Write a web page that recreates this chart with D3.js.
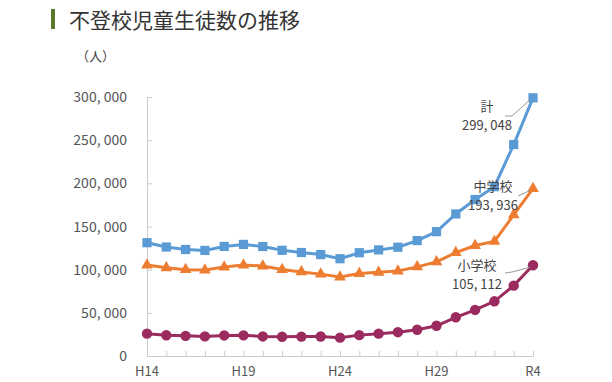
<!DOCTYPE html>
<html><head><meta charset="utf-8">
<script src="https://cdn.jsdelivr.net/npm/d3@7"></script>
<style>
body{margin:0;background:#fff;}
text{font-family:"Noto Sans CJK JP","Noto Sans",sans-serif;}
</style></head>
<body><svg id="c" width="612" height="382"></svg>
<script>
const years = ["H14","H15","H16","H17","H18","H19","H20","H21","H22","H23","H24","H25","H26","H27","H28","H29","H30","R1","R2","R3","R4"];
const xTickLabels = ["H14","H19","H24","H29","R4"];
const elementary = [25869,24077,23318,22709,23825,23927,22652,22327,22463,22622,21243,24175,25864,27583,30448,35032,44841,53350,63350,81498,105112];
const junior = [105383,102149,100040,99578,103069,105328,104153,100105,97428,94836,91446,95442,97033,98408,103235,108999,119687,127922,132777,163442,193936];
const total = [131252,126226,123358,122287,126894,129255,126805,122432,119891,117458,112689,119617,122897,125991,133683,144031,164528,181272,196127,244940,299048];
const yTicks = [0,50000,100000,150000,200000,250000,300000];
const seriesNames = ["計","中学校","小学校"];

const svg = d3.select("#c");
const x = d3.scalePoint().domain(years).range([147,533]);
const y = d3.scaleLinear().domain([0,300000]).range([356,97]);

// title
svg.append("rect").attr("x",51).attr("y",9).attr("width",4).attr("height",20).attr("fill","#5a7a2a");
svg.append("text").attr("x",69).attr("y",28).attr("font-size",21).attr("fill","#333").text("不登校児童生徒数の推移");
svg.append("text").attr("x",76).attr("y",61).attr("font-size",13).attr("fill","#444").text("（人）");

// axes
const gy = svg.append("g").attr("transform","translate(147,0)")
  .call(d3.axisRight(y).tickValues(yTicks).tickSize(5).tickFormat(""));
gy.select(".domain").attr("stroke","#ccc");
gy.selectAll(".tick line").attr("stroke","#ccc");
svg.append("g").selectAll("text").data(yTicks).join("text")
  .attr("x",127).attr("y",d=>y(d)+5).attr("text-anchor","end")
  .attr("font-size",14).attr("fill","#555")
  .text(d=>d===0?"0":d3.format(",")(d).replace(",",", "));

const gx = svg.append("g").attr("transform","translate(0,356)")
  .call(d3.axisTop(x).tickSize(5).tickFormat(""));
gx.select(".domain").attr("stroke","#ccc");
gx.selectAll(".tick line").attr("stroke","#ccc");
svg.append("g").selectAll("text").data(xTickLabels).join("text")
  .attr("x",d=>x(d)).attr("y",376).attr("text-anchor","middle")
  .attr("font-size",13).attr("fill","#555").text(d=>d);

const line = d3.line().x((d,i)=>x(years[i])).y(d=>y(d));
const cols = {tot:"#5b9bd5", jr:"#ed7d31", el:"#9b2a5e"};

function drawSeries(data,color,shape,size,dy){
  svg.append("path").datum(data).attr("d",line).attr("fill","none").attr("stroke",color).attr("stroke-width",3);
  const sym = d3.symbol().type(shape).size(size);
  svg.append("g").selectAll("path").data(data).join("path")
    .attr("transform",(d,i)=>`translate(${x(years[i])},${y(d)+dy})`)
    .attr("d",sym).attr("fill",color);
}
drawSeries(elementary,cols.el,d3.symbolCircle,85,0);
drawSeries(junior,cols.jr,d3.symbolTriangle,60,0);
drawSeries(total,cols.tot,d3.symbolSquare,85,0);

// annotations
const last = years.length-1;
const ann = [
  {name:seriesNames[0], v:total[last], lx:487, ly1:111, ly2:130, pts:[[505,116],[512,116]]},
  {name:seriesNames[1], v:junior[last], lx:493, ly1:191, ly2:210, pts:[[518,196]]},
  {name:seriesNames[2], v:elementary[last], lx:477, ly1:270, ly2:289, pts:[[505,273],[512,272]]}
];
ann.forEach(a=>{
  const pts = a.pts.concat([[x(years[last])-3,y(a.v)+2]]);
  svg.append("path").attr("d",d3.line()(pts)).attr("fill","none").attr("stroke","#999").attr("stroke-width",1);
  svg.append("text").attr("x",a.lx).attr("y",a.ly1).attr("text-anchor","middle").attr("font-size",13).attr("fill","#444").text(a.name);
  svg.append("text").attr("x",a.lx).attr("y",a.ly2).attr("text-anchor","middle").attr("font-size",13).attr("fill","#444").text(d3.format(",")(a.v).replace(",",", "));
});
</script></body></html>
